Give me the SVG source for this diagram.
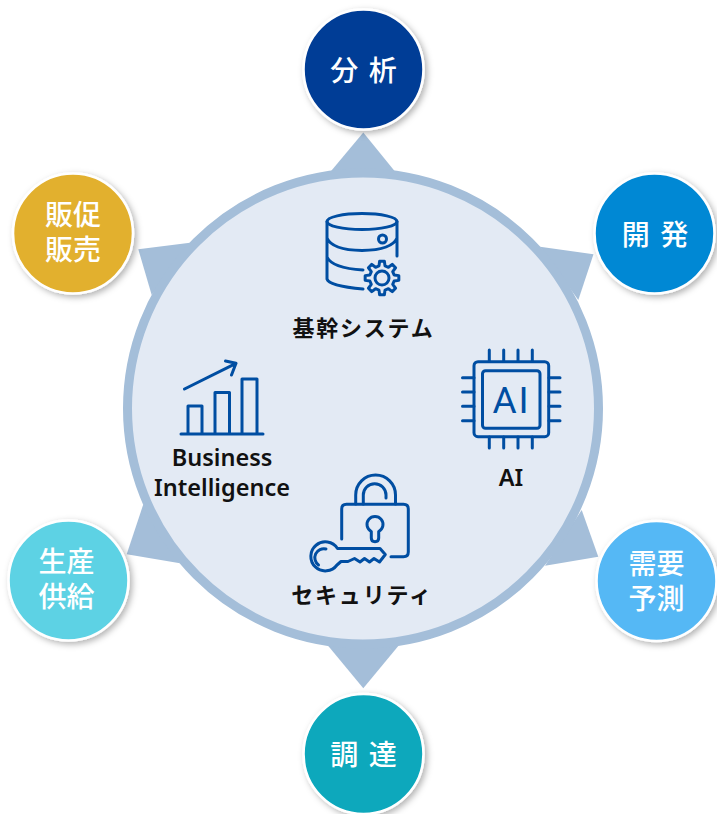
<svg xmlns="http://www.w3.org/2000/svg" width="717" height="814" viewBox="0 0 717 814">
<style>
.sat{stroke:#fff;stroke-width:2.6;filter:url(#sh)}
.nl{font-family:"Noto Sans CJK JP","Noto Sans",sans-serif;font-weight:500;font-size:28px;fill:#fff;text-anchor:middle}
.cl{font-family:"Noto Sans CJK JP","Noto Sans",sans-serif;font-weight:700;fill:#111;text-anchor:middle}
.la{font-family:"Noto Sans",sans-serif;font-weight:600;font-size:23.5px;fill:#111;text-anchor:middle}
.ic{fill:none;stroke:#004ea2;stroke-width:3;stroke-linecap:round;stroke-linejoin:round}
.tri{fill:#a4bed9}
</style>
<defs>
<filter id="sh" x="-20%" y="-20%" width="145%" height="145%"><feDropShadow dx="2.5" dy="2.5" stdDeviation="3" flood-color="#000" flood-opacity="0.3"/></filter>
</defs>
<rect width="717" height="814" fill="#fff"/>
<g id="connectors">
<polygon class="tri" points="363.3,132.5 330.7,171.5 395,171.5"/>
<polygon class="tri" points="593.5,254.3 540,246.7 578.3,300"/>
<polygon class="tri" points="598.3,556.7 581.7,510 545,565.7"/>
<polygon class="tri" points="363.3,688.3 328.3,646 398.3,646"/>
<polygon class="tri" points="126.7,554.3 143.3,504.3 180,563.3"/>
<polygon class="tri" points="138.3,249.3 190,242.7 151.7,295"/>
</g>
<g id="hub"><circle cx="363" cy="408.5" r="235.5" fill="#e3eaf4" stroke="#a4bed9" stroke-width="9"/></g>
<g id="node-bunseki"><circle class="sat" cx="363.5" cy="69.5" r="60" fill="#003c96"/><text class="nl" x="363.5" y="80.5" word-spacing="4">分 析</text></g>
<g id="node-kaihatsu"><circle class="sat" cx="654.5" cy="233.5" r="60" fill="#0088d4"/><text class="nl" x="655" y="245" word-spacing="4">開 発</text></g>
<g id="node-juyo"><circle class="sat" cx="656.5" cy="581" r="60" fill="#55b8f5"/><text class="nl"><tspan x="656.5" y="574">需要</tspan><tspan x="656.5" y="609">予測</tspan></text></g>
<g id="node-chotatsu"><circle class="sat" cx="363.5" cy="754" r="60" fill="#0aa8bc"/><text class="nl" x="363.5" y="765" word-spacing="4">調 達</text></g>
<g id="node-seisan"><circle class="sat" cx="68.5" cy="580.5" r="60" fill="#5dd2e4"/><text class="nl"><tspan x="66.5" y="571.5">生産</tspan><tspan x="66.5" y="606.5">供給</tspan></text></g>
<g id="node-hansoku"><circle class="sat" cx="73" cy="233.5" r="60" fill="#e2b02e"/><text class="nl"><tspan x="73" y="225">販促</tspan><tspan x="73" y="260">販売</tspan></text></g>
<g id="item-kikan">
<ellipse class="ic" cx="362" cy="221.5" rx="35" ry="8"/>
<path class="ic" d="M327 221.5V279Q329 286 363 289M397 221.5V256M327 238Q332 250 362 250.5Q392 250 397 238M327 257Q332 268 363 270"/>
<circle class="ic" cx="382.5" cy="239" r="4"/>
<polygon class="ic" transform="translate(382,278)" points="12.13,-3.02 16.83,-2.37 16.83,2.37 12.13,3.02 10.71,6.44 13.58,10.23 10.23,13.58 6.44,10.71 3.02,12.13 2.37,16.83 -2.37,16.83 -3.02,12.13 -6.44,10.71 -10.23,13.58 -13.58,10.23 -10.71,6.44 -12.13,3.02 -16.83,2.37 -16.83,-2.37 -12.13,-3.02 -10.71,-6.44 -13.58,-10.23 -10.23,-13.58 -6.44,-10.71 -3.02,-12.13 -2.37,-16.83 2.37,-16.83 3.02,-12.13 6.44,-10.71 10.23,-13.58 13.58,-10.23 10.71,-6.44"/>
<circle class="ic" cx="382" cy="278" r="7"/>
<text class="cl" x="363.5" y="336" font-size="22" letter-spacing="1.8">基幹システム</text>
</g>
<g id="item-bi">
<path class="ic" d="M181 434H263M188 434V406H202V434M215 434V392.5H229.5V434M242 434V379H257V434M184.5 389L236 363.3M225.5 361L236 363.3L231.5 375"/>
<text class="la" x="222" y="466">Business</text>
<text class="la" x="222" y="496">Intelligence</text>
</g>
<g id="item-ai">
<rect class="ic" x="474" y="361.7" width="74.7" height="75" rx="4"/>
<rect class="ic" x="482.5" y="370.7" width="57.5" height="57.5" rx="3"/>
<path class="ic" d="M489.3 350V361M503.7 350V361M518 350V361M532.3 350V361M489.3 437V448M503.7 437V448M518 437V448M532.3 437V448M462.5 377.7H474M462.5 392H474M462.5 406.3H474M462.5 420.7H474M549 377.7H560M549 392H560M549 406.3H560M549 420.7H560"/>
<text x="511.5" y="412.5" text-anchor="middle" font-size="37" font-weight="400" letter-spacing="2" fill="#004ea2" style="font-family:Roboto,sans-serif">AI</text>
<text class="la" x="511" y="486">AI</text>
</g>
<g id="item-security">
<path class="ic" d="M341.7 539V509Q341.7 504.3 346.5 504.3H403.5Q408.3 504.3 408.3 509V552Q408.3 556.7 403.5 556.7H391"/>
<path class="ic" d="M355.7 504V495A19.9 19.9 0 0 1 395.5 495V504M363.3 504V495A11.3 11.3 0 0 1 386 495V498"/>
<path class="ic" d="M371.3 531.5A8 8 0 1 1 378.7 531.5V538Q378.7 541.7 375 541.7Q371.3 541.7 371.3 538Z"/>
<path class="ic" d="M337.5 548.5H380L385.3 554.5L379.5 562L374 558.5L369.5 562L364.5 558.5L360 562L354.5 558.5L348 561.5H341L337 565A14.5 14.5 0 1 1 337.5 548.5Z"/>
<path class="ic" d="M318.5 565A9 9 0 0 1 326 549"/>
<text class="cl" x="362" y="603" font-size="22" letter-spacing="1.8">セキュリティ</text>
</g>
</svg>
